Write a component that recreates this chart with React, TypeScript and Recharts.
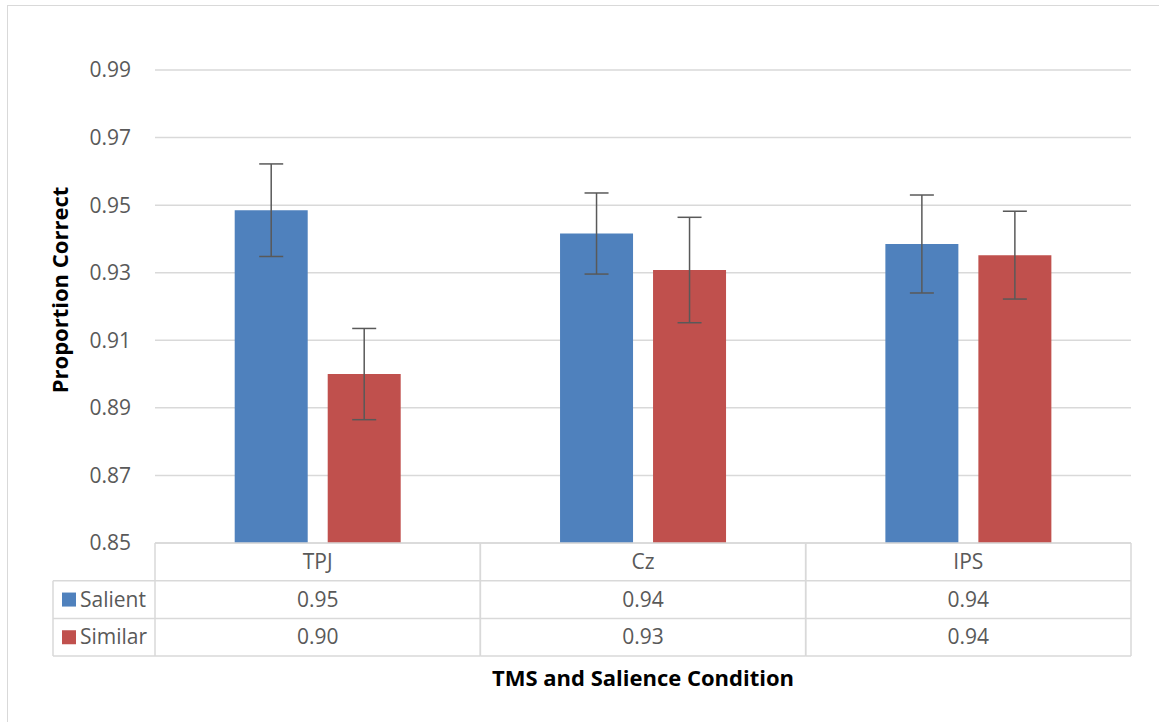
import React from 'react';
import { BarChart, Bar, XAxis, YAxis, CartesianGrid, ErrorBar, Customized } from 'recharts';

const categories = ['TPJ', 'Cz', 'IPS'];
const salient = [0.9485, 0.9416, 0.9385];
const similar = [0.9, 0.9308, 0.9352];
const salientErr = [0.0137, 0.012, 0.0145];
const similarErr = [0.0135, 0.0156, 0.013];
const yTicks = [0.85, 0.87, 0.89, 0.91, 0.93, 0.95, 0.97, 0.99];

const seriesInfo = [
  { key: 'salient', name: 'Salient', color: '#4F81BD', values: salient },
  { key: 'similar', name: 'Similar', color: '#C0504D', values: similar },
];

const data = categories.map((c, i) => ({
  name: c,
  salient: salient[i],
  similar: similar[i],
  salientErr: salientErr[i],
  similarErr: similarErr[i],
}));

const W = 1159;
const H = 722;
const margin = { top: 70, right: 28, bottom: 0, left: 0 };
const yAxisWidth = 155;
const xAxisHeight = 179;
const rowH = 37.7;
const legendLeft = 53;
const gridColor = '#d9d9d9';
const textColor = '#595959';
const fs = 21;

const TableTick = (props: any) => {
  const { x, y, payload, index } = props;
  const bw = (W - margin.right - yAxisWidth) / categories.length;
  const left = x - bw / 2;
  const right = x + bw / 2;
  const rows = [y + rowH, y + rowH * 2, y + rowH * 3];
  return (
    <g>
      <line x1={left} x2={left} y1={y} y2={rows[2]} stroke={gridColor} strokeWidth={1.5} />
      <line x1={right} x2={right} y1={y} y2={rows[2]} stroke={gridColor} strokeWidth={1.5} />
      {rows.map((ry, k) => (
        <line key={k} x1={left} x2={right} y1={ry} y2={ry} stroke={gridColor} strokeWidth={1.5} />
      ))}
      <text x={x} y={y + rowH / 2} dy={7} textAnchor="middle" fill={textColor} fontSize={fs}>
        {payload.value}
      </text>
      {seriesInfo.map((s, k) => (
        <text key={s.key} x={x} y={y + rowH * (k + 1.5)} dy={7} textAnchor="middle" fill={textColor} fontSize={fs}>
          {s.values[index].toFixed(2)}
        </text>
      ))}
      {index === 0 && (
        <g>
          <line x1={legendLeft} x2={legendLeft} y1={rows[0]} y2={rows[2]} stroke={gridColor} strokeWidth={1.5} />
          {rows.map((ry, k) => (
            <line key={k} x1={legendLeft} x2={left} y1={ry} y2={ry} stroke={gridColor} strokeWidth={1.5} />
          ))}
          {seriesInfo.map((s, k) => {
            const cy = y + rowH * (k + 1.5);
            return (
              <g key={s.key}>
                <rect x={62} y={cy - 7} width={14} height={14} fill={s.color} />
                <text x={80} y={cy} dy={7} fill={textColor} fontSize={fs}>
                  {s.name}
                </text>
              </g>
            );
          })}
        </g>
      )}
    </g>
  );
};

const YTitle = () => (
  <text
    x={68}
    y={290}
    transform="rotate(-90 68 290)"
    textAnchor="middle"
    fontSize={22}
    fontWeight="bold"
    fill="#000"
  >
    Proportion Correct
  </text>
);

const XTitle = () => (
  <text x={643} y={686} textAnchor="middle" fontSize={22} fontWeight="bold" fill="#000">
    TMS and Salience Condition
  </text>
);

export default function App() {
  return (
    <div style={{ position: 'absolute', left: 0, top: 0, width: W, height: H, background: '#fff' }}>
      <div
        style={{
          position: 'absolute',
          left: 7,
          top: 5,
          width: W,
          height: H,
          border: `1.5px solid ${gridColor}`,
          boxSizing: 'border-box',
        }}
      />
      <BarChart
        width={W}
        height={H}
        data={data}
        margin={margin}
        barCategoryGap="24.5%"
        barGap={20}
        style={{ position: 'absolute', left: 0, top: 0, fontFamily: '"Open Sans", sans-serif' }}
      >
        <CartesianGrid vertical={false} stroke={gridColor} strokeWidth={1.5} />
        <YAxis
          domain={[0.85, 0.99]}
          ticks={yTicks}
          width={yAxisWidth}
          axisLine={false}
          tickLine={false}
          tickMargin={18}
          tickFormatter={(v: number) => v.toFixed(2)}
          tick={{ fill: textColor, fontSize: fs }}
          interval={0}
        />
        <XAxis
          dataKey="name"
          height={xAxisHeight}
          tickLine={false}
          tickSize={0}
          tickMargin={0}
          axisLine={{ stroke: gridColor, strokeWidth: 1.5 }}
          tick={<TableTick />}
          interval={0}
        />
        {seriesInfo.map((s) => (
          <Bar key={s.key} dataKey={s.key} name={s.name} fill={s.color} isAnimationActive={false}>
            <ErrorBar dataKey={`${s.key}Err`} width={12} stroke="#595959" strokeWidth={1.5} />
          </Bar>
        ))}
        <Customized component={YTitle} />
        <Customized component={XTitle} />
      </BarChart>
    </div>
  );
}
